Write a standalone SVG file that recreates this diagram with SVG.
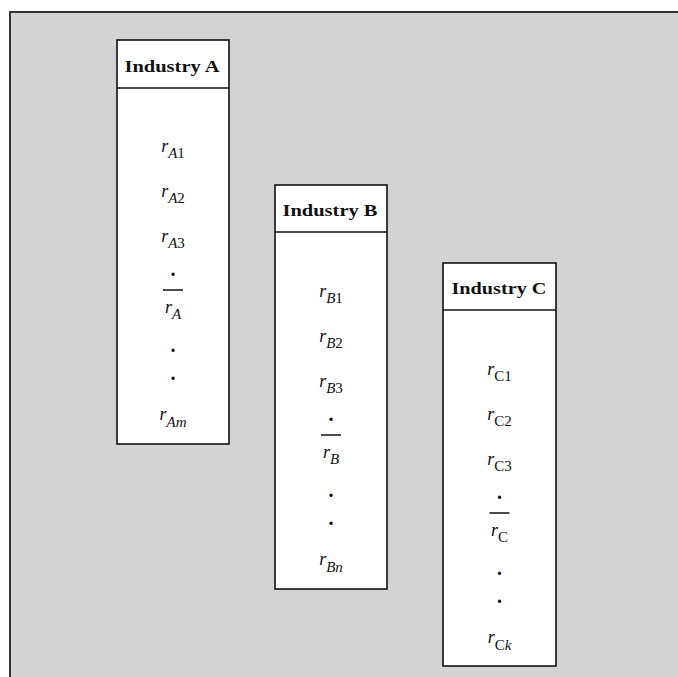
<svg xmlns="http://www.w3.org/2000/svg" width="678" height="677" viewBox="0 0 678 677">
<style>
.frame{fill:#d3d3d3;stroke:#333;stroke-width:2}
.box{fill:#fff;stroke:#111;stroke-width:1.6}
.hl{stroke:#111;stroke-width:1.6}
.bar{stroke:#111;stroke-width:1.5}
.t{font-family:"Liberation Serif","DejaVu Serif",serif;font-weight:bold;font-size:17px;fill:#111;text-anchor:middle}
.v{font-family:"Liberation Serif","DejaVu Serif",serif;font-size:18px;fill:#111;text-anchor:middle}
.d{font-family:"Liberation Serif","DejaVu Serif",serif;font-size:20px;font-weight:bold;fill:#111;text-anchor:middle}
.i{font-style:italic}
.s{font-size:15px}
</style>
<rect width="678" height="677" fill="#fff"/>
<rect class="frame" x="10" y="12" width="700" height="700"/>
<g id="connectors"/>
<g id="industry-a">
<rect class="box" x="117" y="40" width="112" height="404"/>
<line class="hl" x1="117" y1="88" x2="229" y2="88"/>
<text class="t" x="172" y="72" textLength="95" lengthAdjust="spacingAndGlyphs">Industry A</text>
<text class="v" x="173" y="152"><tspan class="i">r</tspan><tspan class="s i" dy="6">A</tspan><tspan class="s">1</tspan></text>
<text class="v" x="173" y="197"><tspan class="i">r</tspan><tspan class="s i" dy="6">A</tspan><tspan class="s">2</tspan></text>
<text class="v" x="173" y="242"><tspan class="i">r</tspan><tspan class="s i" dy="6">A</tspan><tspan class="s">3</tspan></text>
<text class="d" x="173" y="276">.</text>
<line class="bar" x1="163" y1="290" x2="183" y2="290"/>
<text class="v" x="173" y="313"><tspan class="i">r</tspan><tspan class="s i" dy="6">A</tspan></text>
<text class="d" x="173" y="352">.</text>
<text class="d" x="173" y="380">.</text>
<text class="v" x="173" y="420"><tspan class="i">r</tspan><tspan class="s i" dy="7">Am</tspan></text>
</g>
<g id="industry-b">
<rect class="box" x="275" y="185" width="112" height="404"/>
<line class="hl" x1="275" y1="232" x2="387" y2="232"/>
<text class="t" x="330" y="216" textLength="95" lengthAdjust="spacingAndGlyphs">Industry B</text>
<text class="v" x="331" y="297"><tspan class="i">r</tspan><tspan class="s i" dy="6">B</tspan><tspan class="s">1</tspan></text>
<text class="v" x="331" y="342"><tspan class="i">r</tspan><tspan class="s i" dy="6">B</tspan><tspan class="s">2</tspan></text>
<text class="v" x="331" y="387"><tspan class="i">r</tspan><tspan class="s i" dy="6">B</tspan><tspan class="s">3</tspan></text>
<text class="d" x="331" y="421">.</text>
<line class="bar" x1="321" y1="435" x2="341" y2="435"/>
<text class="v" x="331" y="458"><tspan class="i">r</tspan><tspan class="s i" dy="6">B</tspan></text>
<text class="d" x="331" y="497">.</text>
<text class="d" x="331" y="525">.</text>
<text class="v" x="331" y="565"><tspan class="i">r</tspan><tspan class="s i" dy="7">Bn</tspan></text>
</g>
<g id="industry-c">
<rect class="box" x="443" y="263" width="113" height="403"/>
<line class="hl" x1="443" y1="310" x2="556" y2="310"/>
<text class="t" x="499" y="294" textLength="95" lengthAdjust="spacingAndGlyphs">Industry C</text>
<text class="v" x="499.5" y="375"><tspan class="i">r</tspan><tspan class="s" dy="6">C1</tspan></text>
<text class="v" x="499.5" y="420"><tspan class="i">r</tspan><tspan class="s" dy="6">C2</tspan></text>
<text class="v" x="499.5" y="465"><tspan class="i">r</tspan><tspan class="s" dy="6">C3</tspan></text>
<text class="d" x="499.5" y="499">.</text>
<line class="bar" x1="489.5" y1="513" x2="509.5" y2="513"/>
<text class="v" x="499.5" y="536"><tspan class="i">r</tspan><tspan class="s" dy="6">C</tspan></text>
<text class="d" x="499.5" y="575">.</text>
<text class="d" x="499.5" y="603">.</text>
<text class="v" x="499.5" y="643"><tspan class="i">r</tspan><tspan class="s" dy="7">C<tspan class="i">k</tspan></tspan></text>
</g>
</svg>
